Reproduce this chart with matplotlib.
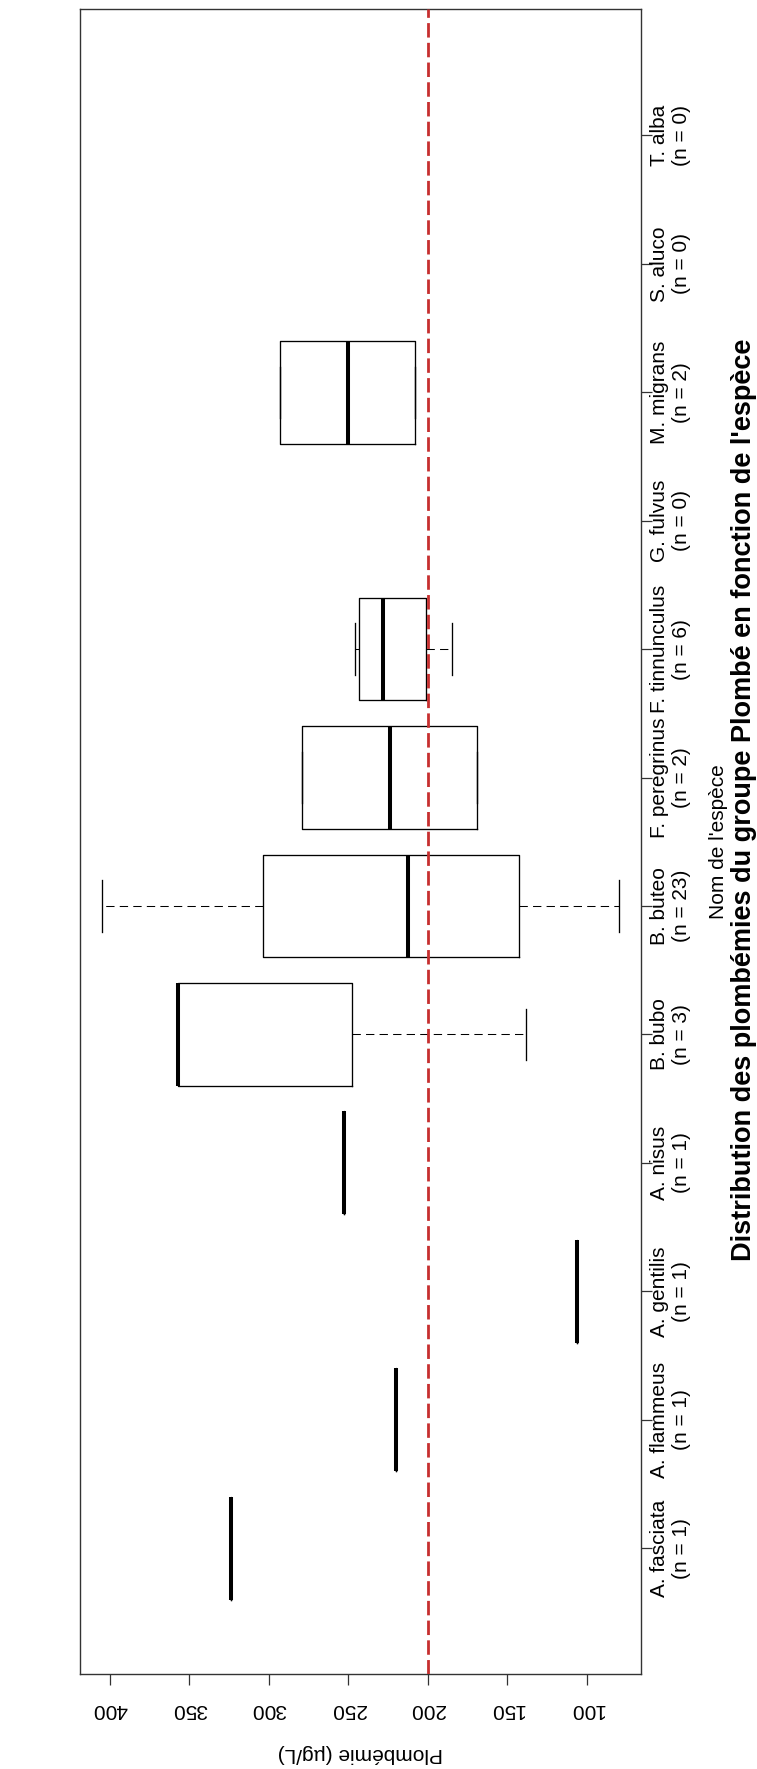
import numpy as np
import matplotlib
matplotlib.use("Agg")
import matplotlib.pyplot as plt
from matplotlib import font_manager
from matplotlib.transforms import blended_transform_factory

# Species, sample sizes and five-number summaries of blood lead (µg/L)
species = ["A. fasciata", "A. flammeus", "A. gentilis", "A. nisus", "B. bubo",
           "B. buteo", "F. peregrinus", "F. tinnunculus", "G. fulvus",
           "M. migrans", "S. aluco", "T. alba"]
counts = [1, 1, 1, 1, 3, 23, 2, 6, 0, 2, 0, 0]
whis_low = [324, 220, 106, 253, 138, 79.6, 169, 185, None, 208, None, None]
q1_vals = [324, 220, 106, 253, 248, 142.6, 169, 201, None, 208, None, None]
medians = [324, 220, 106, 253, 357, 212.4, 224, 228, None, 250.5, None, None]
q3_vals = [324, 220, 106, 253, 357, 303.8, 279, 243, None, 293, None, None]
whis_high = [324, 220, 106, 253, 357, 405.3, 279, 246, None, 293, None, None]
value_ticks = [100, 150, 200, 250, 300, 350, 400]
threshold = 200

names = {f.name for f in font_manager.fontManager.ttflist}
narrow = "Liberation Sans Narrow" if "Liberation Sans Narrow" in names else "Liberation Sans"
plt.rcParams["font.family"] = ["Liberation Sans", "DejaVu Sans"]

W, H, DPI = 757, 1769, 100
fig = plt.figure(figsize=(W / DPI, H / DPI), dpi=DPI)
left, right, top, bottom = 80, 641, 9.5, 1674
ax = fig.add_axes([left / W, 1 - bottom / H, (right - left) / W, (bottom - top) / H])

stats = []
positions = []
for i, n in enumerate(counts):
    if n == 0:
        continue
    stats.append(dict(whislo=whis_low[i], q1=q1_vals[i], med=medians[i],
                      q3=q3_vals[i], whishi=whis_high[i], fliers=[]))
    positions.append(i + 1)

ax.bxp(stats, positions=positions, widths=0.8, orientation="horizontal",
       showfliers=False, patch_artist=False,
       boxprops=dict(color="black", linewidth=0.95),
       medianprops=dict(color="black", linewidth=2.9, solid_capstyle="butt"),
       whiskerprops=dict(color="black", linewidth=0.75, linestyle=(0, (8, 5))),
       capprops=dict(color="black", linewidth=0.95))

ax.axvline(threshold, color="#C62F2F", linewidth=2.0, dashes=(5.2, 1.9), zorder=5)

ax.set_xlim(418.9, 65.8)
ax.set_ylim(0.02, 12.98)

for s in ax.spines.values():
    s.set_color("#333333")
    s.set_linewidth(1.0)

# value axis (bottom), labels upside down
ax.set_xticks(value_ticks)
ax.set_xticklabels([str(v) for v in value_ticks])
ax.tick_params(axis="x", direction="out", length=8, width=0.9, pad=11,
               labelrotation=180, labelsize=15, color="#333333")
ax.set_xlabel("Plombémie (µg/L)", rotation=180, fontsize=15)
ax.xaxis.set_label_coords(0.5, (bottom - 1753) / (bottom - top))
ax.xaxis.label.set_va("center")

# species axis (right side)
ax.yaxis.tick_right()
ax.set_yticks(range(1, len(species) + 1))
ax.set_yticklabels([])
ax.tick_params(axis="y", direction="out", length=8, width=0.9, color="#333333")
trans = blended_transform_factory(ax.transAxes, ax.transData)
xlab = (670.5 - left) / (right - left)
for i, (name, n) in enumerate(zip(species, counts)):
    ax.text(xlab, i + 1, f"{name}\n(n = {n})", rotation=90, ha="center",
            va="center", multialignment="center", fontsize=15,
            family=[narrow, "DejaVu Sans"], linespacing=1.25, transform=trans)

ax.yaxis.set_label_position("right")
ax.set_ylabel("Nom de l'espèce", rotation=90, fontsize=15,
              family=[narrow, "DejaVu Sans"])
ax.yaxis.set_label_coords((718 - left) / (right - left), 0.5)
ax.yaxis.label.set_va("center")

fig.suptitle("Distribution des plombémies du groupe Plombé en fonction de l'espèce",
             x=744 / W, y=1 - 800 / H, rotation=90, ha="center", va="center",
             fontsize=19.5, fontweight="bold", family=[narrow, "DejaVu Sans"])

fig.savefig("out.png", dpi=DPI, facecolor="white")
